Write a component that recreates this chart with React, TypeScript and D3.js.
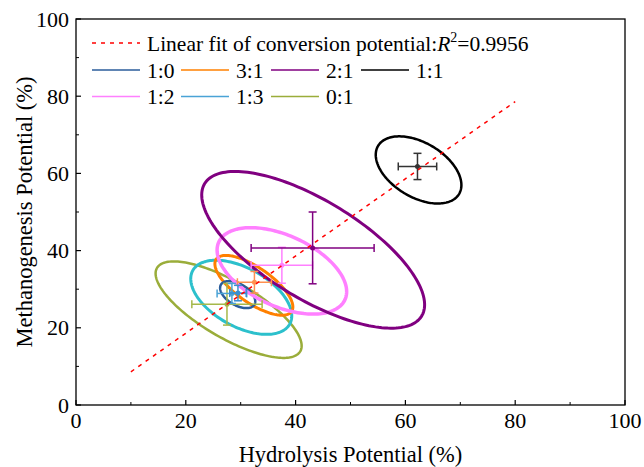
import React from "react";
import * as d3 from "d3";

// Mixing ratios (series names shown in the legend)
const ratios = ["1:0", "3:1", "2:1", "1:1", "1:2", "1:3", "0:1"];

// Mean hydrolysis / methanogenesis potential (%) and their standard deviations
const hydrolysis = [29.5, 32.5, 43.1, 62.2, 37.5, 28.4, 27.5];
const hydrolysisErr = [1.5, 3.1, 11.2, 3.5, 5.6, 2.7, 6.4];
const methanogenesis = [29.0, 31.8, 40.7, 61.8, 36.2, 28.9, 26.1];
const methanogenesisErr = [2.0, 2.8, 9.3, 3.4, 4.65, 2.6, 5.4];

// Confidence ellipses: centre, half extents along x / y, correlation
const ellipseCx = [29.45, 32.4, 43.2, 62.4, 37.5, 30.1, 27.8];
const ellipseCy = [28.6, 31.0, 40.2, 60.9, 34.75, 27.9, 24.7];
const ellipseSx = [3.2, 7.1, 20.3, 7.8, 11.8, 9.2, 13.3];
const ellipseSy = [3.5, 7.75, 20.3, 8.7, 11.2, 9.6, 12.5];
const ellipseRho = [-0.5, -0.72, -0.7, -0.45, -0.48, -0.5, -0.75];

// Linear fit of conversion potential
const fitSlope = 1.0;
const fitIntercept = -1.4;
const fitRange = [10, 80];
const fitR2 = "0.9956";

const xTicks = [0, 20, 40, 60, 80, 100];
const yTicks = [0, 20, 40, 60, 80, 100];
const minorTicks = [10, 30, 50, 70, 90];

const lineColors = ["#2b5d9b", "#ff8000", "#800080", "#000000", "#ff80ff", "#4aa3d6", "#9aad3a"];
const ellipseColors = ["#2b5d9b", "#ff8000", "#800080", "#000000", "#ff80ff", "#2cc0cc", "#9aad3a"];
const barColors = ["#3a8fd0", "#ff9050", "#800080", "#333333", "#ff80ff", "#4aa3d6", "#a5b84a"];
const ellipseWidths = [2.5, 3, 3, 2.5, 3.5, 3, 2.5];

const W = 644;
const H = 467;
const FONT = "'Liberation Serif', 'Times New Roman', serif";

export default function App() {
  const x = d3.scaleLinear().domain([0, 100]).range([76, 625]);
  const y = d3.scaleLinear().domain([0, 100]).range([405, 19]);

  const ellipsePath = (i: number) => {
    const ts = d3.range(0, 2 * Math.PI + 0.001, Math.PI / 90);
    const r = ellipseRho[i];
    const pts: [number, number][] = ts.map((t) => [
      ellipseCx[i] + ellipseSx[i] * Math.cos(t),
      ellipseCy[i] + ellipseSy[i] * (r * Math.cos(t) + Math.sqrt(1 - r * r) * Math.sin(t)),
    ]);
    return d3
      .line<[number, number]>()
      .x((d) => x(d[0]))
      .y((d) => y(d[1]))
      .curve(d3.curveLinearClosed)(pts) as string;
  };

  const drawOrder = [6, 5, 1, 0, 4, 2, 3];
  const cap = 4;

  const legendRows = [
    [0, 1, 2, 3],
    [4, 5, 6],
  ];
  const legendColX = [92, 181, 271, 361];

  return (
    <svg width={W} height={H} style={{ position: "absolute", left: 0, top: 0 }} fontFamily={FONT}>
      <rect width={W} height={H} fill="#fff" />

      {/* ellipses */}
      {drawOrder.map((i) => (
        <path key={"e" + i} d={ellipsePath(i)} fill="none" stroke={ellipseColors[i]} strokeWidth={ellipseWidths[i]} />
      ))}

      {/* error bars and means */}
      {drawOrder.map((i) => {
        const cx = x(hydrolysis[i]);
        const cy = y(methanogenesis[i]);
        const x0 = x(hydrolysis[i] - hydrolysisErr[i]);
        const x1 = x(hydrolysis[i] + hydrolysisErr[i]);
        const y0 = y(methanogenesis[i] - methanogenesisErr[i]);
        const y1 = y(methanogenesis[i] + methanogenesisErr[i]);
        const c = barColors[i];
        return (
          <g key={"b" + i} stroke={c} strokeWidth={1.5} fill="none">
            <line x1={x0} x2={x1} y1={cy} y2={cy} />
            <line x1={x0} x2={x0} y1={cy - cap} y2={cy + cap} />
            <line x1={x1} x2={x1} y1={cy - cap} y2={cy + cap} />
            <line x1={cx} x2={cx} y1={y0} y2={y1} />
            <line x1={cx - cap} x2={cx + cap} y1={y0} y2={y0} />
            <line x1={cx - cap} x2={cx + cap} y1={y1} y2={y1} />
            <circle cx={cx} cy={cy} r={2.5} fill={c} stroke="none" />
          </g>
        );
      })}

      {/* linear fit */}
      <line
        x1={x(fitRange[0])}
        y1={y(fitSlope * fitRange[0] + fitIntercept)}
        x2={x(fitRange[1])}
        y2={y(fitSlope * fitRange[1] + fitIntercept)}
        stroke="#ff0000"
        strokeWidth={1.5}
        strokeDasharray="4,5"
      />

      {/* frame */}
      <rect x={x(0)} y={y(100)} width={x(100) - x(0)} height={y(0) - y(100)} fill="none" stroke="#000" strokeWidth={1.3} />

      {/* x axis ticks */}
      {xTicks.map((t) => (
        <g key={"xt" + t}>
          <line x1={x(t)} x2={x(t)} y1={y(0)} y2={y(0) - 5} stroke="#000" strokeWidth={1.2} />
          <text x={x(t)} y={428} textAnchor="middle" fontSize={22}>
            {t}
          </text>
        </g>
      ))}
      {minorTicks.map((t) => (
        <line key={"xm" + t} x1={x(t)} x2={x(t)} y1={y(0)} y2={y(0) - 3} stroke="#000" strokeWidth={1} />
      ))}

      {/* y axis ticks */}
      {yTicks.map((t) => (
        <g key={"yt" + t}>
          <line x1={x(0)} x2={x(0) + 5} y1={y(t)} y2={y(t)} stroke="#000" strokeWidth={1.2} />
          <text x={69} y={y(t) + 7.5} textAnchor="end" fontSize={22}>
            {t}
          </text>
        </g>
      ))}
      {minorTicks.map((t) => (
        <line key={"ym" + t} x1={x(0)} x2={x(0) + 3} y1={y(t)} y2={y(t)} stroke="#000" strokeWidth={1} />
      ))}

      {/* axis titles */}
      <text x={(x(0) + x(100)) / 2} y={462} textAnchor="middle" fontSize={22.5}>
        Hydrolysis Potential (%)
      </text>
      <text transform={`translate(32, ${(y(0) + y(100)) / 2}) rotate(-90)`} textAnchor="middle" fontSize={22.5}>
        Methanogenesis Potential (%)
      </text>

      {/* legend */}
      <g fontSize={21.5}>
        <line x1={92} x2={140} y1={43} y2={43} stroke="#ff0000" strokeWidth={1.5} strokeDasharray="4,5" />
        <text x={147} y={50.5}>
          Linear fit of conversion potential:<tspan fontStyle="italic">R</tspan>
          <tspan fontSize={14} dy={-9}>2</tspan>
          <tspan dy={9}>={fitR2}</tspan>
        </text>
        {legendRows.map((row, r) =>
          row.map((i, c) => {
            const ly = 70 + r * 26.5;
            const lx = legendColX[c];
            return (
              <g key={"lg" + i}>
                <line x1={lx} x2={lx + 48} y1={ly} y2={ly} stroke={lineColors[i]} strokeWidth={1.5} />
                <text x={lx + 55} y={ly + 7.5}>
                  {ratios[i]}
                </text>
              </g>
            );
          })
        )}
      </g>
    </svg>
  );
}
